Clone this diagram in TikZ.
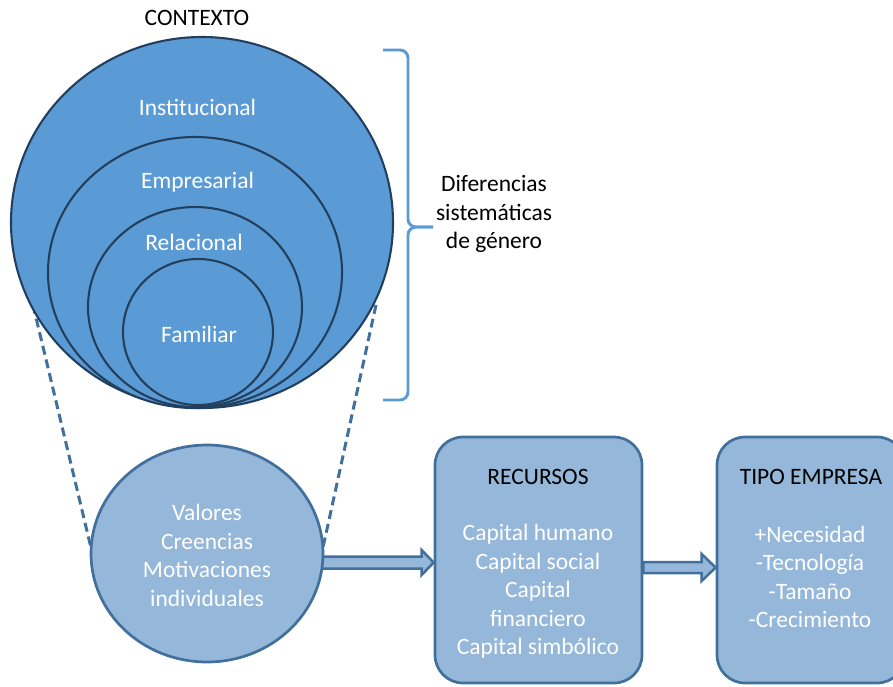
\documentclass[tikz,border=0pt]{standalone}
\usepackage{fontspec}
\setmainfont{Carlito}
\usetikzlibrary{shapes.geometric,calc}
\definecolor{bigfill}{HTML}{5B9BD5}
\definecolor{bigline}{HTML}{233F5E}
\definecolor{lightfill}{HTML}{95B7D9}
\definecolor{lightline}{HTML}{41709C}
\definecolor{bracec}{HTML}{5B9BD5}
\begin{document}
\begin{tikzpicture}[x=1pt,y=-1pt,
  ring/.style={ellipse, draw=bigline, fill=bigfill, line width=2.1pt, inner sep=0pt},
  lring/.style={ellipse, draw=lightline, fill=lightfill, line width=2.7pt, inner sep=0pt},
  boxnode/.style={rectangle, rounded corners=28pt, draw=lightline, fill=lightfill, line width=2.7pt, inner sep=0pt},
  wtext/.style={text=white, font=\fontsize{23.5}{28.5}\selectfont, align=center, inner sep=0pt},
  ktext/.style={text=black, font=\fontsize{23.5}{28.5}\selectfont, align=center, inner sep=0pt},
  bracepath/.style={draw=bracec, line width=2.9pt, rounded corners=8pt},
  dashline/.style={draw=lightline, line width=3pt, dash pattern=on 9pt off 5pt},
  barrow/.style={draw=lightline, fill=lightfill, line width=2.5pt, line join=miter}
]
\useasboundingbox (0,0) rectangle (893,686);
\clip (0,0) rectangle (893,686);

% dashed connector lines (behind the circles)
\coordinate (dlt) at (33,305);
\coordinate (dlb) at (92,552);
\coordinate (drt) at (376,305);
\coordinate (drb) at (322,552);
\draw[dashline] (dlt) -- (dlb);
\draw[dashline] (drt) -- (drb);

% nested context circles
\node[ring, minimum width=382pt, minimum height=371pt] (inst) at (202,222.5) {};
\node[ring, minimum width=294pt, minimum height=271pt] (emp) at (195,272.5) {};
\node[ring, minimum width=214pt, minimum height=200pt] (rel) at (195,307) {};
\node[ring, minimum width=150pt, minimum height=146pt] (fam) at (198,332) {};

\node[ktext] (ctx) at (197,18) {CONTEXTO};
\node[wtext] (tinst) at (197.5,107) {Institucional};
\node[wtext] (temp) at (197.5,182) {Empresarial};
\node[wtext] (trel) at (194,242) {Relacional};
\node[wtext] (tfam) at (199,334) {Familiar};

% brace
\coordinate (btop) at (383,50);
\coordinate (bbot) at (383,400);
\coordinate (btip) at (433,227);
\draw[bracepath] (btop) -- (408,50) -- (408,227) -- (btip);
\draw[bracepath] (bbot) -- (408,400) -- (408,227) -- (btip);
\node[ktext] (dif) at (494,214) {Diferencias\\sistemáticas\\de género};

% boxes
\node[boxnode, minimum width=207pt, minimum height=246pt] (rec) at (538.5,560) {};
\node[boxnode, minimum width=188pt, minimum height=246pt] (tipo) at (811,560) {};

% block arrows
\coordinate (a1s) at (310,562.5);
\coordinate (a1e) at (rec.west |- a1s);
\draw[barrow] ([yshift=6pt]a1s) -- ([xshift=-12pt,yshift=6pt]a1e) -- ([xshift=-12pt,yshift=12.5pt]a1e) -- (a1e) -- ([xshift=-12pt,yshift=-12.5pt]a1e) -- ([xshift=-12pt,yshift=-6pt]a1e) -- ([yshift=-6pt]a1s) -- cycle;
\coordinate (a2s) at (rec.east |- 0,567.5);
\coordinate (a2e) at (tipo.west |- a2s);
\draw[barrow] ([yshift=5.5pt]a2s) -- ([xshift=-14pt,yshift=5.5pt]a2e) -- ([xshift=-14pt,yshift=13.5pt]a2e) -- (a2e) -- ([xshift=-14pt,yshift=-13.5pt]a2e) -- ([xshift=-14pt,yshift=-5.5pt]a2e) -- ([yshift=-5.5pt]a2s) -- cycle;

% individual circle
\node[lring, minimum width=232pt, minimum height=217pt] (ind) at (207,553.5) {};
\node[wtext] (tind) at (207,555.5) {Valores\\Creencias\\Motivaciones\\individuales};

% box texts
\node[ktext] (hrec) at (538,477) {RECURSOS};
\node[wtext] (trec) at (538,591.5) {Capital humano\\Capital social\\Capital\\financiero\\Capital simbólico};
\node[ktext] (htipo) at (811,477) {TIPO EMPRESA};
\node[wtext] (ttipo) at (810,577) {+Necesidad\\-Tecnología\\-Tamaño\\-Crecimiento};
\end{tikzpicture}
\end{document}
